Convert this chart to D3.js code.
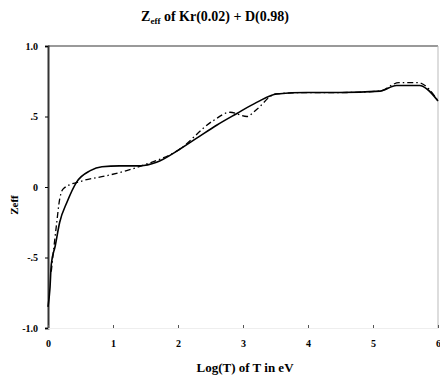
<!DOCTYPE html>
<html>
<head>
<meta charset="utf-8">
<script src="https://cdn.jsdelivr.net/npm/d3@7"></script>
<style>
  body { margin: 0; background: #fff; }
  text { font-family: "Liberation Serif", "DejaVu Serif", serif; }
</style>
</head>
<body>
<svg id="chart" width="440" height="379"></svg>
<script>
// values
let solidX = [0.0, 0.03, 0.05, 0.11, 0.18, 0.29, 0.44, 0.65, 0.83, 1.1, 1.42, 1.67, 2.0, 2.3, 2.6, 2.9, 3.21, 3.52, 3.98, 4.49, 5.11, 5.36, 5.72, 5.83, 6.0]
let solidY = [-0.85, -0.72, -0.55, -0.42, -0.25, -0.11, 0.035, 0.116, 0.144, 0.15, 0.15, 0.175, 0.26, 0.35, 0.44, 0.52, 0.6, 0.66, 0.67, 0.67, 0.68, 0.72, 0.72, 0.695, 0.61]

let dashX = [0.05, 0.13, 0.18, 0.24, 0.54, 0.9, 1.21, 1.5, 2.0, 2.54, 2.8, 3.06, 3.21, 3.5, 4.0, 4.5, 5.1, 5.4, 5.7, 5.85, 6.0]
let dashY = [-0.6, -0.27, -0.085, -0.01, 0.045, 0.08, 0.116, 0.16, 0.26, 0.47, 0.53, 0.5, 0.55, 0.66, 0.67, 0.67, 0.68, 0.74, 0.74, 0.70, 0.61]

let xTicks = [0, 1, 2, 3, 4, 5, 6]
let yTicks = [1, 0.5, 0, -0.5, -1]
let yTickLabels = ["1.0", ".5", "0", "-.5", "-1.0"]

let margins = {top: 46, right: 2, bottom: 51, left: 48}
let width = 440 - margins.left - margins.right
let height = 379 - margins.top - margins.bottom

let svg = d3.select("#chart")

let g = svg.append("g")
           .attr("transform", `translate(${margins.left},${margins.top})`)

let x = d3.scaleLinear().domain([0, 6]).range([0, width])
let y = d3.scaleLinear().domain([-1, 1]).range([height, 0])

// plot frame
g.append("line").attr("x1", 0).attr("x2", width).attr("y1", 0).attr("y2", 0)
 .attr("stroke", "#777").attr("stroke-width", 1.5)
g.append("line").attr("x1", width).attr("x2", width).attr("y1", 0).attr("y2", height)
 .attr("stroke", "#bbb").attr("stroke-width", 1)

let yAxis = g.append("g")
             .call(d3.axisLeft(y).tickValues(yTicks).tickSize(3).tickFormat((d, i) => yTickLabels[i]))
yAxis.select(".domain").attr("stroke", "#333").attr("stroke-width", 2)
yAxis.selectAll("text").style("font-size", "10px").style("font-weight", "bold").attr("dx", "-4")

let xAxis = g.append("g")
             .attr("transform", `translate(0,${height})`)
             .call(d3.axisBottom(x).tickValues(xTicks).tickSize(-3).tickFormat(d3.format("d")))
xAxis.select(".domain").attr("stroke", "#eee")
xAxis.selectAll("line").attr("stroke", "#555")
xAxis.selectAll("text").style("font-size", "10px").style("font-weight", "bold").attr("dy", "1.6em")

let line = d3.line()
             .x(d => x(d[0]))
             .y(d => y(d[1]))
             .curve(d3.curveMonotoneX)

g.append("path")
 .datum(dashX.map((v, i) => [v, dashY[i]]))
 .attr("d", line)
 .attr("fill", "none")
 .attr("stroke", "#000")
 .attr("stroke-width", 1.3)
 .attr("stroke-dasharray", "6,3,1.5,3")

g.append("path")
 .datum(solidX.map((v, i) => [v, solidY[i]]))
 .attr("d", line)
 .attr("fill", "none")
 .attr("stroke", "#000")
 .attr("stroke-width", 1.6)

// title and axis labels
let title = svg.append("text")
               .attr("x", 215).attr("y", 21)
               .attr("text-anchor", "middle")
               .style("font-size", "14px").style("font-weight", "bold")
title.append("tspan").text("Z")
title.append("tspan").text("eff").attr("dy", 3).style("font-size", "9px")
title.append("tspan").text(" of Kr(0.02) + D(0.98)").attr("dy", -3)

svg.append("text")
   .attr("x", 245).attr("y", 372)
   .attr("text-anchor", "middle")
   .style("font-size", "13px").style("font-weight", "bold")
   .text("Log(T) of T in eV")

svg.append("text")
   .attr("transform", "translate(18,205) rotate(-90)")
   .attr("text-anchor", "middle")
   .style("font-size", "11px").style("font-weight", "bold")
   .text("Zeff")
</script>
</body>
</html>
